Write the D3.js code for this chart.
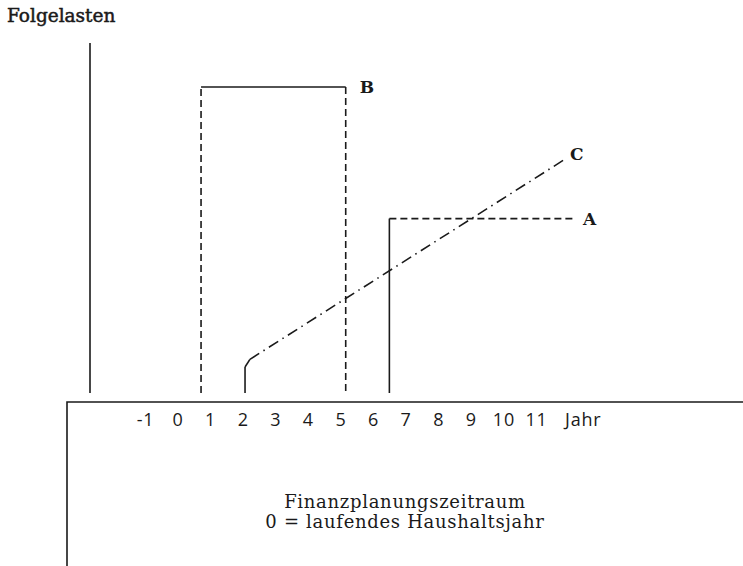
<!DOCTYPE html>
<html>
<head>
<meta charset="utf-8">
<script src="https://cdn.jsdelivr.net/npm/d3@7"></script>
<style>
  html, body { margin: 0; padding: 0; background: #fff; }
  svg { display: block; }
  .serif { font-family: "DejaVu Serif", "Liberation Serif", serif; fill: #1a1a1a; }
  .tick text, .unit { font-family: "Open Sans", "DejaVu Sans", sans-serif; font-size: 18px; letter-spacing: 0.8px; fill: #1a1a1a; }
</style>
</head>
<body>
<div id="chart"></div>
<script>
// x: years of the planning period, y: follow-up costs (arbitrary units, B top = 100)
const years = [-1, 0, 1, 2, 3, 4, 5, 6, 7, 8, 9, 10, 11];
const yearLabels = ['-1', '0', '1', '2', '3', '4', '5', '6', '7', '8', '9', '10', '11'];

const seriesNames = ['A', 'B', 'C'];
const aYears = [6.5, 6.5, 12.2];
const aValues = [0, 57, 57];
const bYears = [0.72, 0.72, 5.16, 5.16];
const bValues = [0, 100, 100, 0];
const cYears = [2.07, 2.07, 2.22, 11.83];
const cValues = [0, 8.5, 11, 76];

const W = 743, H = 566;
const BASE_Y = 402;      // horizontal rule under the curves
const FRAME_X = 67;      // left edge of the lower frame
const YAXIS_X = 90;

const STROKE = '#1a1a1a';
const DASH = { solid: null, dashed: '7,4', dashdot: '11,5,1.5,5' };
// one style per segment of each series
const segStyles = {
  A: ['solid', 'dashed'],
  B: ['dashed', 'solid', 'dashed'],
  C: ['solid', 'solid', 'dashdot'],
};

const x = d3.scaleLinear().domain([-1, 11]).range([145, 536]);
const y = d3.scaleLinear().domain([0, 100]).range([393, 87]);

const svg = d3.select('#chart').append('svg')
  .attr('width', W)
  .attr('height', H);

// title of the value axis
svg.append('text')
  .attr('class', 'serif')
  .attr('x', 7).attr('y', 22)
  .attr('font-size', '18.5px')
  .attr('stroke', '#1a1a1a')
  .attr('stroke-width', 0.5)
  .text('Folgelasten');

// value axis (no ticks)
svg.append('line')
  .attr('x1', YAXIS_X).attr('x2', YAXIS_X)
  .attr('y1', 43).attr('y2', y(0))
  .attr('stroke', STROKE).attr('stroke-width', 1.6);

// lower frame: horizontal rule + left edge
svg.append('path')
  .attr('d', `M${W},${BASE_Y}H${FRAME_X}V${H}`)
  .attr('fill', 'none')
  .attr('stroke', STROKE).attr('stroke-width', 1.6);

// year labels
const axis = svg.append('g')
  .attr('transform', `translate(0,${BASE_Y})`)
  .call(d3.axisBottom(x)
    .tickValues(years)
    .tickSize(0)
    .tickPadding(11)
    .tickFormat((d, i) => yearLabels[i]));
axis.select('.domain').remove();
axis.selectAll('.tick text').attr('font-size', null).attr('font-family', null);

svg.append('text')
  .attr('class', 'unit')
  .attr('x', 565).attr('y', 425.5)
  .text('Jahr');

// series
const series = [
  { name: 'A', xs: aYears, ys: aValues },
  { name: 'B', xs: bYears, ys: bValues },
  { name: 'C', xs: cYears, ys: cValues },
];

series.forEach((s) => {
  const g = svg.append('g').attr('class', `series-${s.name}`);
  for (let i = 0; i < s.xs.length - 1; i++) {
    const style = segStyles[s.name][i];
    g.append('line')
      .attr('x1', x(s.xs[i])).attr('y1', y(s.ys[i]))
      .attr('x2', x(s.xs[i + 1])).attr('y2', y(s.ys[i + 1]))
      .attr('stroke', STROKE)
      .attr('stroke-width', 1.6)
      .attr('stroke-dasharray', DASH[style]);
  }
});

// series labels
const labelAt = {
  A: { year: aYears[aYears.length - 1], value: aValues[aValues.length - 1], dx: 8, dy: 6 },
  B: { year: bYears[2], value: bValues[2], dx: 14, dy: 6 },
  C: { year: cYears[cYears.length - 1], value: cValues[cValues.length - 1], dx: 7, dy: 0 },
};
seriesNames.forEach((n) => {
  const l = labelAt[n];
  svg.append('text')
    .attr('class', 'serif')
    .attr('x', x(l.year) + l.dx)
    .attr('y', y(l.value) + l.dy)
    .attr('font-size', '17px')
    .attr('font-weight', 'bold')
    .text(n);
});

// caption
const caption = svg.append('text')
  .attr('class', 'serif')
  .attr('text-anchor', 'middle')
  .attr('font-size', '18px')
  .attr('letter-spacing', '0.7px');
caption.append('tspan').attr('x', 405).attr('y', 508).text('Finanzplanungszeitraum');
caption.append('tspan').attr('x', 405).attr('y', 528).text('0 = laufendes Haushaltsjahr');
</script>
</body>
</html>
